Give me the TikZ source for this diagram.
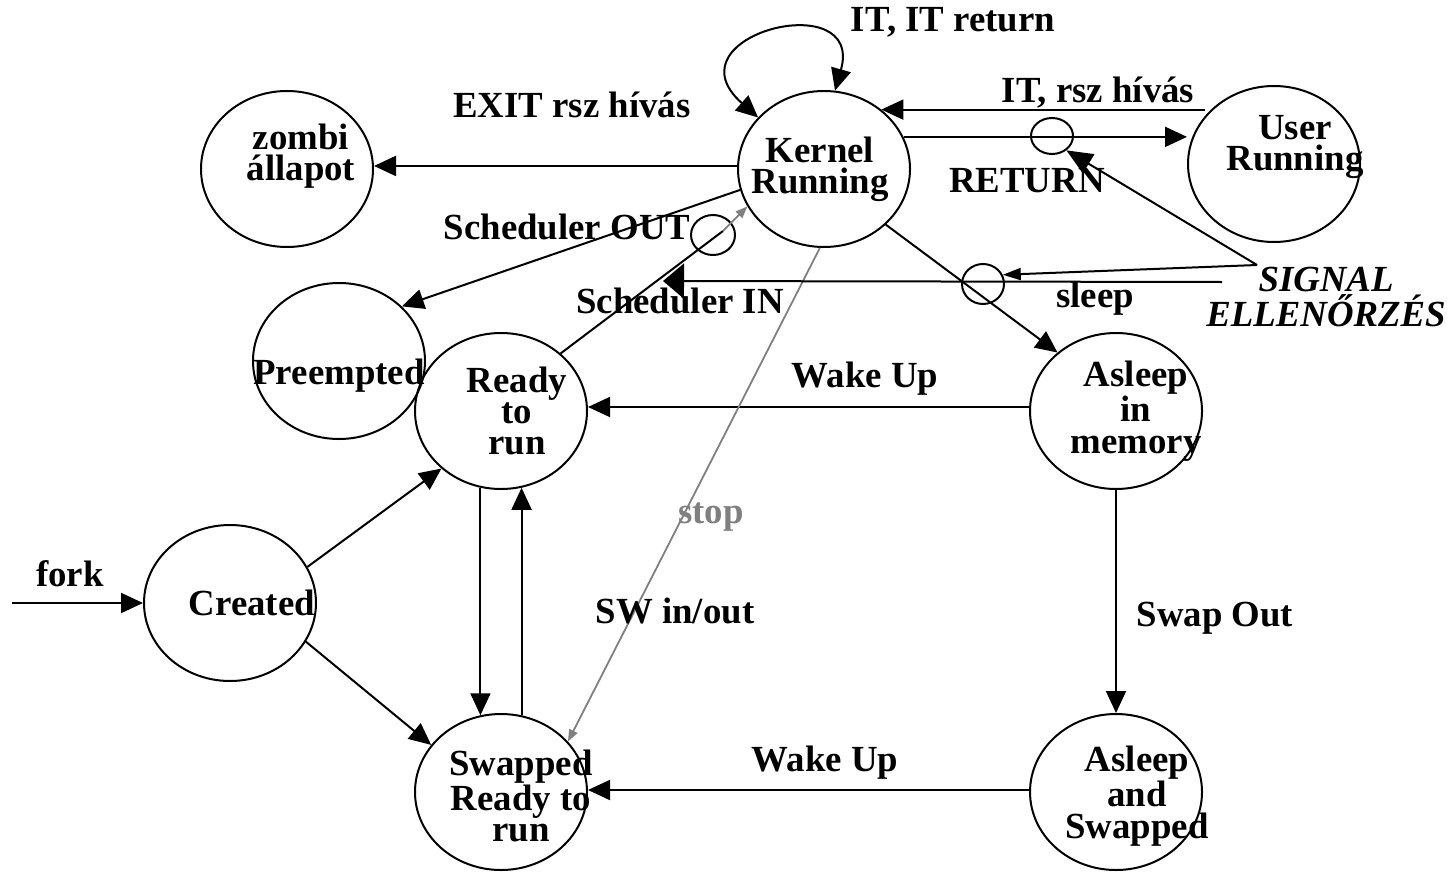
\documentclass[tikz,border=0pt]{standalone}
\usepackage{fontspec}
\setmainfont{Liberation Serif}
\usetikzlibrary{arrows.meta,shapes.geometric}
\begin{document}
\begin{tikzpicture}[x=0.5pt,y=-0.5pt,
  state/.style={draw, line width=1pt, ellipse, inner sep=0pt,
    minimum width=86pt, minimum height=78pt},
  knot/.style={draw, line width=1pt, ellipse, inner sep=0pt},
  lbl/.style={font=\fontsize{18.4}{15.6}\selectfont\bfseries, align=center, inner sep=0pt},
  arr/.style={line width=1pt, -{Triangle[length=11pt,width=10pt]}},
  garr/.style={line width=0.9pt, draw={rgb,255:red,128;green,128;blue,128},
    -{Triangle[length=6pt,width=4.5pt]}},
]
\fill[white] (0,0) rectangle (1454,872);
\useasboundingbox (0,0) rectangle (1454,872);

% process states
\node[state] (zb) at (287,169) {};
\node[state] (kr) at (824,169) {};
\node[state] (ur) at (1274,164) {};
\node[state] (pe) at (339,361) {};
\node[state] (rr) at (501,411) {};
\node[state] (am) at (1116,411) {};
\node[state] (cr) at (230,603) {};
\node[state] (sr) at (501,792) {};
\node[state] (as) at (1116,792) {};

% state names
\node[lbl] (zb-t) at (301,156) {zombi\\állapot};
\node[lbl] (kr-t) at (820,169) {Kernel\\Running};
\node[lbl] (ur-t) at (1295,147) {User\\Running};
\node[lbl] (pe-t) at (339,376) {Preempted};
\node[lbl] (rr-t) at (517,411) {Ready\\to\\run};
\node[lbl] (am-t) at (1136,411) {Asleep\\in\\memory};
\node[lbl] (cr-t) at (252,603) {Created};
\node[lbl] (sr-t) at (521,796) {Swapped\\Ready to\\run};
\node[lbl] (as-t) at (1137,796) {Asleep\\and\\Swapped};

% signal check rings
\node[knot, minimum width=21pt, minimum height=18pt] (k1) at (1052,136) {};
\node[knot, minimum width=22pt, minimum height=20pt] (k2) at (713,235) {};
\node[knot, minimum width=21pt, minimum height=20pt] (k3) at (983,284) {};

% free ends
\coordinate (fk) at (12,603);
\coordinate (sj) at (723,231);
\coordinate (hl) at (1222,282);
\coordinate (ht) at (663,281);
\coordinate (sg) at (1257,265);

% transitions
\draw[arr] (kr.178) -- (zb.east |- kr.178);
\draw[arr] (kr.194) -- (pe.41.5);
\draw[line width=1pt] (rr.44) -- (sj);
\draw[garr] (sj) -- (kr.206);
\draw[line width=1pt, {Triangle[length=11pt,width=10pt]}-{Triangle[length=11pt,width=10pt]}]
  (kr.142) .. controls (665,35) and (865,-15) .. (kr.82);
\draw[arr] (kr.22) -- (ur.west |- kr.22);
\draw[arr] (ur.145 |- kr.46) -- (kr.46);
\draw[arr] (kr.318) -- (am.135);
\draw[arr] ([yshift=2pt]am.west) -- ([yshift=2pt]rr.east);
\draw[arr] (am.south) -- (as.north);
\draw[arr] ([yshift=1pt]as.west) -- ([yshift=1pt]sr.east);
\draw[arr] (cr.25) -- (rr.224);
\draw[arr] (cr.333) -- (sr.146.5);
\draw[arr] (rr.255) -- (sr.105);
\draw[arr] (sr.75) -- (rr.285);
\draw[arr] (fk) -- (cr.west);
\draw[garr] (kr.267) -- (sr.37.6);

% signal checks
\draw[line width=1pt, -{Triangle[length=10.5pt,width=17.5pt]}] (hl) -- (ht);
\draw[line width=1pt, -{Triangle[length=9pt,width=6pt]}] (sg) -- (k3.25);
\draw[line width=1pt, -{Triangle[length=13pt,width=11pt]}] (sg) -- (k1.315);

% transition labels
\node[lbl] (l-itr) at (953,22) {IT, IT return};
\node[lbl] (l-exit) at (572,105) {EXIT rsz hívás};
\node[lbl] (l-itrsz) at (1098,93) {IT, rsz hívás};
\node[lbl] (l-ret) at (1027,181) {RETURN};
\node[lbl] (l-sout) at (567,227) {Scheduler OUT};
\node[lbl] (l-sin) at (680,301) {Scheduler IN};
\node[lbl] (l-sleep) at (1095,299) {sleep};
\node[lbl] (l-wu1) at (865,379) {Wake Up};
\node[lbl] (l-wu2) at (825,763) {Wake Up};
\node[lbl, text={rgb,255:red,128;green,128;blue,128}] (l-stop) at (711,517) {stop};
\node[lbl] (l-sw) at (675,611) {SW in/out};
\node[lbl] (l-swo) at (1215,618) {Swap Out};
\node[lbl] (l-fork) at (70,574) {fork};
\node[lbl, font=\fontsize{18.4}{15.6}\selectfont\bfseries\itshape] (sig) at (1326,297) {SIGNAL\\ELLENŐRZÉS};
\end{tikzpicture}
\end{document}
